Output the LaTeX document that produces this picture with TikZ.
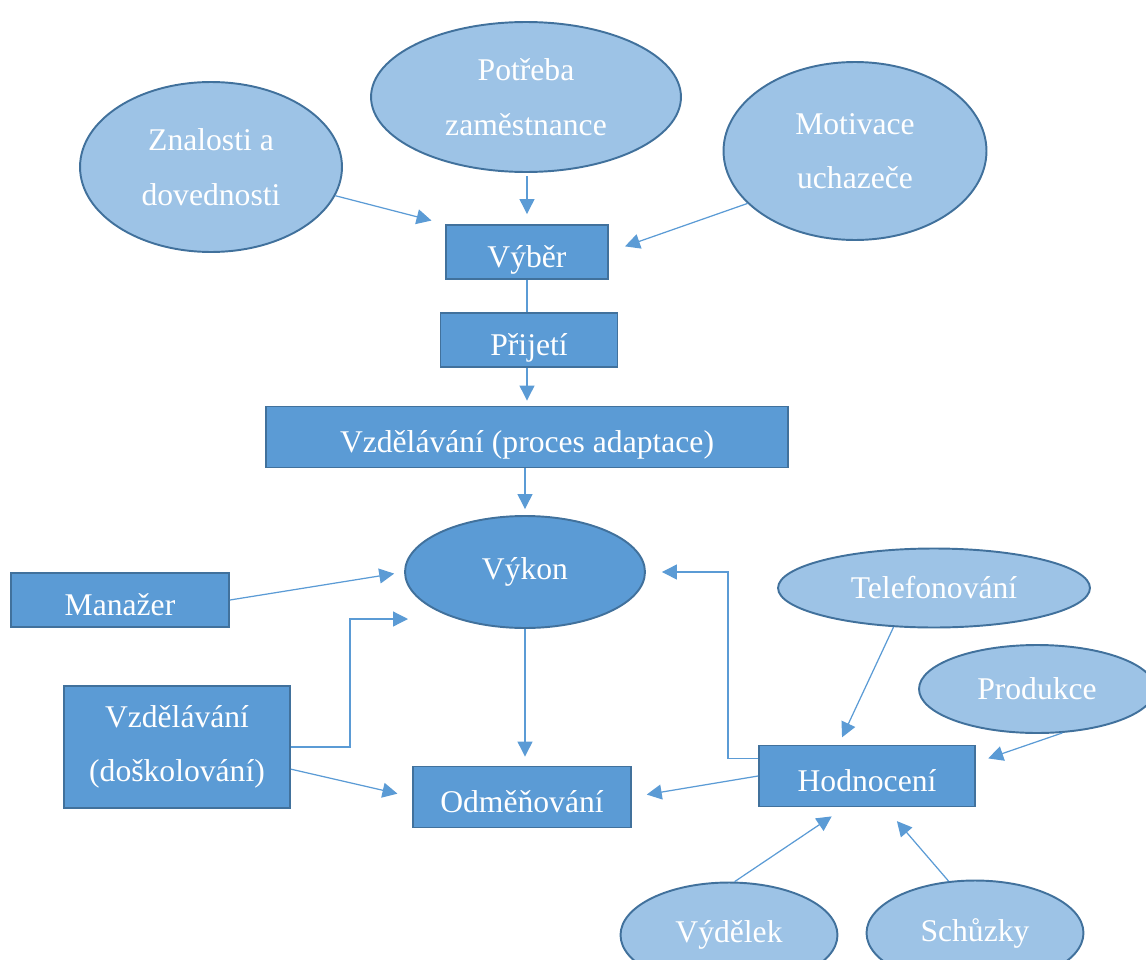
\documentclass[tikz,border=0pt]{standalone}
\usepackage{fontspec}
\setmainfont{Liberation Serif}
\usepackage{xcolor}
\usepackage{tikz}
\usetikzlibrary{arrows.meta,shapes.geometric}
\definecolor{boxblue}{HTML}{5B9BD5}
\definecolor{edgeblue}{HTML}{41719C}
\definecolor{bubbleblue}{HTML}{9DC3E6}

\begin{document}
\begin{tikzpicture}[
  x=0.02cm,y=-0.02cm,
  box/.style={draw=edgeblue,fill=boxblue,line width=1.1pt,inner sep=0pt,align=center,text=white,font=\fontsize{18}{31}\selectfont},
  linebox/.style={box,text height=17.5pt,text depth=0pt},
  bubble/.style={ellipse,draw=edgeblue,fill=bubbleblue,line width=1.1pt,inner sep=0pt,align=center,text=white,font=\fontsize{18}{31}\selectfont},
  link/.style={draw=boxblue,line width=0.7pt},
  >={Triangle[length=8.5pt,width=8.5pt]}
]
\useasboundingbox (0,0) rectangle (1146,960);
\clip (0,0) rectangle (1146,960);
% upper part
\node[bubble,minimum width=5.24cm,minimum height=3.4cm] (znal) at (211,167) {Znalosti a\\dovednosti};
\node[bubble,minimum width=6.2cm,minimum height=3cm] (potr) at (526,97) {Potřeba\\zaměstnance};
\node[bubble,minimum width=5.26cm,minimum height=3.56cm] (motiv) at (855,151) {Motivace\\uchazeče};
\node[linebox,minimum width=3.24cm,minimum height=1.08cm] (vyber) at (527,252) {Výběr};
\node[linebox,minimum width=3.54cm,minimum height=1.08cm] (prij) at (529,340) {Přijetí};
\node[linebox,minimum width=10.46cm,minimum height=1.22cm] (adapt) at (527,437) {Vzdělávání (proces adaptace)};
% middle part
\node[bubble,fill=boxblue,minimum width=4.8cm,minimum height=2.24cm] (vykon) at (525,572) {Výkon};
\node[linebox,minimum width=4.36cm,minimum height=1.08cm] (manaz) at (120,600) {Manažer};
\node[box,minimum width=4.52cm,minimum height=2.44cm] (dosk) at (177,747) {Vzdělávání\\(doškolování)};
\node[linebox,minimum width=4.36cm,minimum height=1.22cm] (odmen) at (522,797) {Odměňování};
\node[linebox,minimum width=4.32cm,minimum height=1.22cm] (hodn) at (867,776) {Hodnocení};
\coordinate (vykonin) at (408,619);
% evaluation inputs
\node[bubble,minimum width=6.24cm,minimum height=1.58cm] (telef) at (934,588) {Telefonování};
\node[bubble,minimum width=4.72cm,minimum height=1.76cm] (prod) at (1037,689) {Produkce};
\node[bubble,minimum width=4.34cm,minimum height=2.1cm] (vydel) at (729,935) {Výdělek};
\node[bubble,minimum width=4.34cm,minimum height=2.1cm] (schuz) at (975,933) {Schůzky};
% connectors
\draw[link,->,shorten >=0.28cm] (znal.-13) -- (vyber.north west);
\draw[link,->,shorten >=0.2cm,shorten <=2pt] (vyber.north |- potr.south) -- (vyber.north);
\draw[link,->,shorten >=0.34cm] (motiv.206) -- (vyber.east);
\draw[link] (vyber.south) -- (vyber.south |- prij.north);
\draw[link,->,shorten >=0.1cm] (vyber.south |- prij.south) -- (vyber.south |- adapt.north);
\draw[link,->,shorten >=0.12cm] (vykon.north |- adapt.south) -- (vykon.north);
\draw[link,->,shorten >=0.2cm] (manaz.east) -- (vykon.west);
\draw[link,->] (dosk.east) -- ++(59,0) |- (vykonin);
\draw[link,->,shorten >=0.3cm] (dosk.-11.5) -- (odmen.west);
\draw[link,->,shorten >=0.18cm] (vykon.south) -- (vykon.south |- odmen.north);
\draw[link,->,shorten >=0.32cm] (hodn.171.6) -- ++(-30,0) |- (vykon.east);
\draw[link,->,shorten >=0.3cm] (hodn.west) -- (odmen.east);
\draw[link,->,shorten >=0.16cm] (telef.224) -- (hodn.132);
\draw[link,->,shorten >=0.26cm] (prod.-60) -- (hodn.7);
\draw[link,->,shorten >=0.32cm] (vydel.84) -- (hodn.235);
\draw[link,->,shorten >=0.36cm] (schuz.117) -- (hodn.300.5);
\end{tikzpicture}
\end{document}
